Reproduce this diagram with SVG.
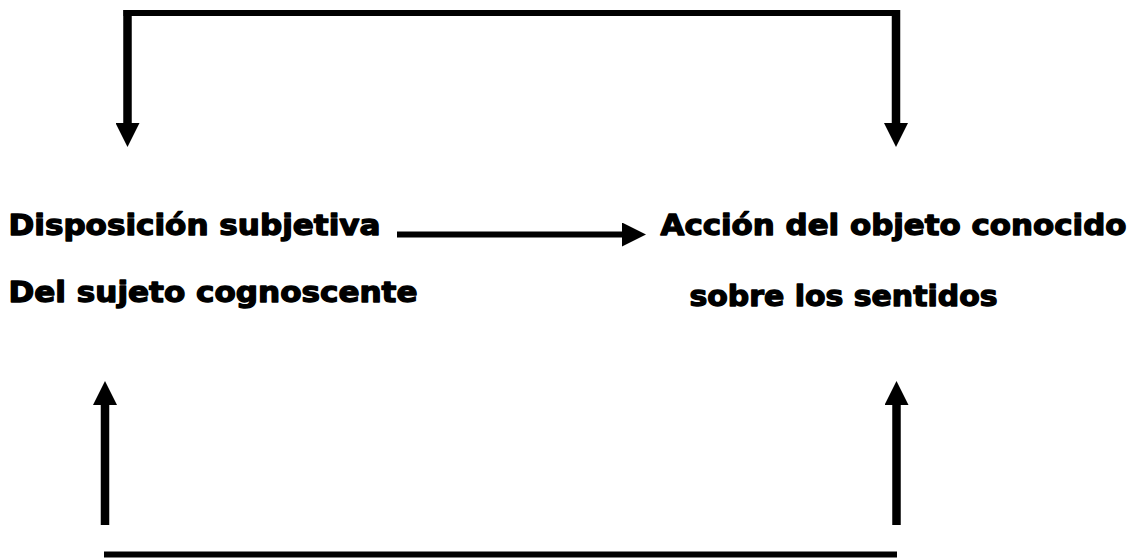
<svg xmlns="http://www.w3.org/2000/svg" width="1141" height="558" viewBox="0 0 1141 558">
  <style>
    .lbl { font-family: "DejaVu Sans", "Liberation Sans", sans-serif; font-weight: bold; font-size: 28px; fill: #000; stroke: #000; stroke-width: 1.3px; stroke-linejoin: round; }
    .ln { stroke: #000; fill: none; stroke-linecap: butt; }
    .v { stroke-width: 8.5px; }
    .h { stroke-width: 6px; }
  </style>
  <defs>
    <marker id="ah" viewBox="0 0 24 24" markerUnits="userSpaceOnUse" markerWidth="24" markerHeight="24" refX="0" refY="12" orient="auto">
      <path d="M0,0 L24,12 L0,24 Z" fill="#000"/>
    </marker>
  </defs>
  <rect width="1141" height="558" fill="#fff"/>
  <g id="connectors">
    <line class="ln h" x1="123.5" y1="13" x2="900" y2="13"/>
    <line class="ln v" x1="127.5" y1="10" x2="127.5" y2="123" marker-end="url(#ah)"/>
    <line class="ln v" x1="896" y1="10" x2="896" y2="123" marker-end="url(#ah)"/>
    <line class="ln h" x1="397" y1="234.5" x2="622" y2="234.5" marker-end="url(#ah)"/>
    <line class="ln v" x1="105" y1="525" x2="105" y2="405" marker-end="url(#ah)"/>
    <line class="ln v" x1="896.5" y1="525" x2="896.5" y2="405" marker-end="url(#ah)"/>
    <line class="ln h" x1="104" y1="554.5" x2="897" y2="554.5"/>
  </g>
  <g id="node-sujeto">
    <text class="lbl" x="8.5" y="234.5" textLength="372" lengthAdjust="spacingAndGlyphs">Disposición subjetiva</text>
    <text class="lbl" x="8.5" y="302" textLength="409" lengthAdjust="spacingAndGlyphs">Del sujeto cognoscente</text>
  </g>
  <g id="node-objeto">
    <text class="lbl" x="660.5" y="235" textLength="466" lengthAdjust="spacingAndGlyphs">Acción del objeto conocido</text>
    <text class="lbl" x="689.5" y="306" textLength="308" lengthAdjust="spacingAndGlyphs">sobre los sentidos</text>
  </g>
</svg>
